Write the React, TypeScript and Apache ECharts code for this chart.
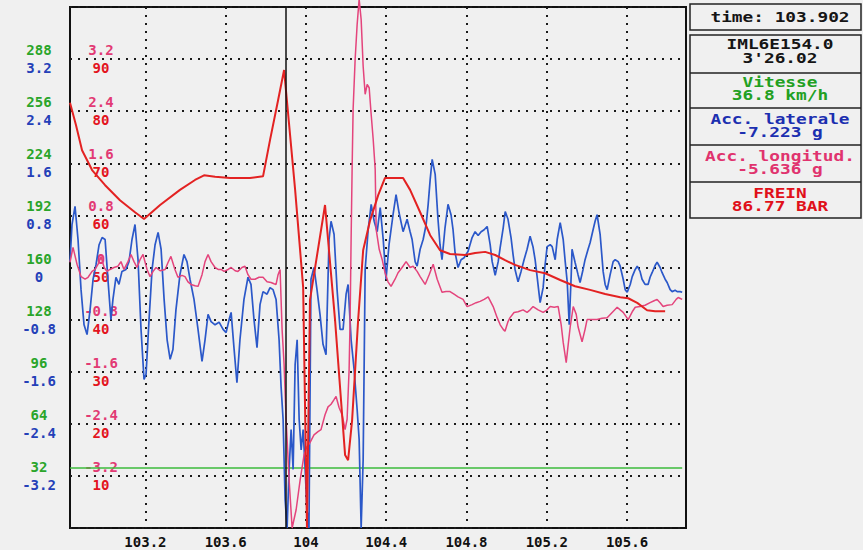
import React, { useEffect, useRef } from 'react';
import * as echarts from 'echarts';

// ---- axis ticks / labels ----
const timeTicks = [103.2, 103.6, 104, 104.4, 104.8, 105.2, 105.6];
const speedTicks = ['288', '256', '224', '192', '160', '128', '96', '64', '32'];
const latTicks = ['3.2', '2.4', '1.6', '0.8', '0', '-0.8', '-1.6', '-2.4', '-3.2'];
const longTicks = ['3.2', '2.4', '1.6', '0.8', '0', '-0.8', '-1.6', '-2.4', '-3.2'];
const brakeTicks = ['90', '80', '70', '60', '50', '40', '30', '20', '10'];

const cursorTime = 103.902;

// ---- info panel ----
const panelTime = 'time: 103.902';
const panelLap = ['IML6E154.0', "3'26.02"];
const panelSpeed = ['Vitesse', '36.8 km/h'];
const panelLat = ['Acc. laterale', '-7.223 g'];
const panelLong = ['Acc. longitud.', '-5.636 g'];
const panelBrake = ['FREIN', '86.77 BAR'];

// ---- series [time s, value] ----
const speed: [number, number][] = [[102.824, 36.8], [105.875, 36.8]];

const lateralAcc: [number, number][] = [
  [102.824,0.09],[102.834,0.66],[102.849,0.94],[102.864,0.43],[102.879,-0.34],[102.894,-0.88],[102.909,-1.03],[102.924,-0.65],[102.939,-0.18],[102.954,0.05],[102.969,0.35],[102.984,0.46],[102.999,0.43],[103.013,-0.18],[103.028,-0.80],[103.038,-0.49],[103.053,-0.15],[103.068,-0.26],[103.083,-0.06],[103.103,-0.03],[103.118,0.09],[103.133,0.43],[103.148,0.66],[103.163,0.12],[103.178,-0.95],[103.193,-1.72],[103.203,-1.64],[103.218,-0.80],[103.233,-0.03],[103.248,0.35],[103.263,0.54],[103.278,0.28],[103.293,-0.49],[103.308,-1.11],[103.323,-1.41],[103.337,-1.26],[103.352,-0.65],[103.372,-0.11],[103.392,0.20],[103.407,0.09],[103.422,-0.18],[103.442,-0.49],[103.462,-0.95],[103.482,-1.44],[103.497,-1.11],[103.512,-0.72],[103.527,-0.83],[103.547,-0.88],[103.567,-0.84],[103.587,-0.95],[103.602,-1.00],[103.617,-0.80],[103.627,-0.69],[103.642,-1.26],[103.656,-1.77],[103.671,-1.11],[103.691,-0.49],[103.711,-0.15],[103.726,-0.26],[103.741,-0.80],[103.756,-1.23],[103.771,-0.57],[103.786,-0.37],[103.806,-0.41],[103.821,-0.31],[103.836,-0.34],[103.851,-0.49],[103.866,-1.11],[103.876,-1.83],[103.886,-2.33],[103.896,-3.56],[103.906,-4.0],[103.916,-3.10],[103.926,-2.49],[103.936,-3.10],[103.946,-1.49],[103.956,-1.11],[103.966,-2.33],[103.976,-2.80],[103.986,-2.49],[103.996,-3.10],[104.005,-3.72],[104.015,-4.0],[104.025,-0.18],[104.040,0.00],[104.055,-0.34],[104.070,-0.72],[104.085,-1.18],[104.100,-1.34],[104.115,0.43],[104.125,0.71],[104.140,0.51],[104.155,-0.34],[104.170,-0.95],[104.185,-0.95],[104.200,-0.41],[104.210,-0.26],[104.225,-1.11],[104.240,-1.57],[104.255,-2.18],[104.265,-2.64],[104.275,-4.0],[104.285,-2.95],[104.295,-0.03],[104.310,0.58],[104.325,0.97],[104.340,0.71],[104.355,0.55],[104.370,0.92],[104.385,0.43],[104.399,-0.18],[104.414,0.35],[104.434,0.81],[104.449,1.12],[104.464,0.84],[104.484,0.55],[104.504,0.74],[104.519,0.55],[104.529,0.43],[104.544,0.09],[104.554,0.02],[104.569,0.28],[104.584,0.43],[104.599,0.66],[104.609,0.97],[104.619,1.35],[104.629,1.66],[104.644,1.43],[104.658,0.74],[104.668,0.35],[104.678,0.12],[104.693,0.61],[104.708,0.97],[104.723,0.81],[104.733,0.58],[104.743,0.23],[104.758,0.00],[104.773,0.12],[104.788,0.15],[104.808,0.25],[104.828,0.46],[104.843,0.55],[104.858,0.49],[104.873,0.55],[104.888,0.58],[104.903,0.63],[104.918,0.35],[104.928,0.09],[104.943,-0.12],[104.958,0.09],[104.968,0.31],[104.983,0.61],[104.993,0.86],[105.007,0.74],[105.022,0.46],[105.032,0.20],[105.042,-0.03],[105.057,-0.22],[105.072,-0.06],[105.087,0.12],[105.102,0.28],[105.117,0.48],[105.132,0.31],[105.142,0.12],[105.152,-0.14],[105.162,-0.41],[105.167,-0.54],[105.182,-0.31],[105.192,0.05],[105.202,0.32],[105.217,0.35],[105.227,0.32],[105.242,0.12],[105.252,0.43],[105.267,0.69],[105.282,0.43],[105.292,0.09],[105.302,-0.22],[105.312,-0.88],[105.322,-0.11],[105.326,0.28],[105.341,0.08],[105.356,-0.11],[105.366,-0.23],[105.381,-0.03],[105.391,0.12],[105.406,0.28],[105.416,0.38],[105.431,0.58],[105.441,0.71],[105.451,0.81],[105.466,0.51],[105.481,-0.06],[105.491,-0.26],[105.501,-0.34],[105.516,-0.11],[105.531,0.09],[105.541,0.12],[105.556,0.09],[105.566,0.02],[105.581,-0.18],[105.591,-0.34],[105.601,-0.38],[105.616,-0.26],[105.626,-0.14],[105.641,-0.03],[105.651,0.02],[105.665,-0.06],[105.675,-0.18],[105.690,-0.26],[105.705,-0.26],[105.715,-0.15],[105.725,-0.08],[105.740,0.03],[105.750,0.08],[105.765,0.00],[105.775,-0.08],[105.790,-0.18],[105.800,-0.23],[105.815,-0.34],[105.825,-0.37],[105.840,-0.35],[105.850,-0.37],[105.865,-0.37],[105.875,-0.38]
];

const longAcc: [number, number][] = [
  [102.824,0.08],[102.839,0.31],[102.859,0.05],[102.879,-0.14],[102.899,-0.18],[102.914,-0.15],[102.934,-0.06],[102.949,-0.03],[102.964,0.05],[102.979,0.17],[102.994,0.00],[103.008,-0.06],[103.023,-0.03],[103.043,0.00],[103.063,0.02],[103.078,0.09],[103.093,-0.03],[103.113,0.09],[103.128,0.20],[103.143,0.09],[103.158,0.00],[103.173,0.12],[103.188,0.20],[103.208,-0.03],[103.223,-0.14],[103.238,-0.06],[103.253,0.00],[103.273,-0.05],[103.298,-0.03],[103.313,0.08],[103.327,0.17],[103.347,-0.03],[103.362,-0.15],[103.382,-0.12],[103.397,-0.14],[103.412,-0.22],[103.427,-0.26],[103.447,-0.28],[103.462,-0.29],[103.482,-0.11],[103.497,0.09],[103.512,0.20],[103.527,0.09],[103.547,0.00],[103.562,-0.03],[103.577,-0.03],[103.592,-0.06],[103.612,-0.03],[103.627,0.00],[103.647,-0.05],[103.661,-0.06],[103.681,0.00],[103.696,0.02],[103.711,-0.11],[103.726,-0.18],[103.746,-0.18],[103.766,-0.15],[103.786,-0.15],[103.806,-0.22],[103.826,-0.23],[103.841,-0.25],[103.851,-0.26],[103.861,-0.11],[103.871,-0.03],[103.876,-0.49],[103.881,-0.95],[103.891,-1.49],[103.901,-2.33],[103.916,-3.26],[103.931,-4.0],[103.951,-3.72],[103.971,-3.26],[103.991,-2.87],[104.005,-2.75],[104.020,-2.69],[104.040,-2.57],[104.060,-2.52],[104.075,-2.49],[104.095,-2.26],[104.110,-2.14],[104.125,-2.10],[104.140,-2.03],[104.150,-1.98],[104.165,-2.15],[104.180,-2.26],[104.195,-2.49],[104.205,-2.33],[104.215,-1.57],[104.220,-0.80],[104.225,0.43],[104.230,1.51],[104.235,2.43],[104.245,3.19],[104.255,3.73],[104.265,4.12],[104.275,3.81],[104.285,3.09],[104.295,2.66],[104.305,2.81],[104.315,2.76],[104.325,2.35],[104.335,1.97],[104.345,1.51],[104.350,0.58],[104.365,0.28],[104.380,0.12],[104.394,-0.08],[104.409,-0.22],[104.424,-0.29],[104.444,-0.18],[104.459,-0.08],[104.479,0.00],[104.499,0.09],[104.519,0.00],[104.534,0.02],[104.554,-0.06],[104.569,-0.14],[104.594,-0.26],[104.614,-0.11],[104.634,0.05],[104.654,-0.18],[104.678,-0.38],[104.698,-0.37],[104.718,-0.37],[104.738,-0.41],[104.758,-0.45],[104.783,-0.49],[104.803,-0.60],[104.828,-0.57],[104.848,-0.54],[104.868,-0.52],[104.888,-0.49],[104.908,-0.45],[104.933,-0.60],[104.953,-0.77],[104.968,-0.88],[104.983,-0.95],[104.992,-0.98],[105.007,-0.83],[105.017,-0.77],[105.037,-0.69],[105.057,-0.68],[105.082,-0.65],[105.102,-0.69],[105.117,-0.65],[105.132,-0.60],[105.157,-0.65],[105.182,-0.69],[105.202,-0.65],[105.217,-0.60],[105.237,-0.61],[105.257,-0.60],[105.272,-0.88],[105.282,-1.15],[105.297,-1.46],[105.307,-1.18],[105.317,-0.91],[105.332,-0.60],[105.347,-0.72],[105.356,-0.91],[105.376,-1.14],[105.391,-0.95],[105.401,-0.80],[105.426,-0.80],[105.451,-0.80],[105.476,-0.78],[105.501,-0.77],[105.526,-0.69],[105.551,-0.61],[105.566,-0.65],[105.581,-0.69],[105.606,-0.80],[105.626,-0.68],[105.641,-0.61],[105.665,-0.60],[105.690,-0.58],[105.715,-0.54],[105.735,-0.51],[105.750,-0.49],[105.765,-0.54],[105.780,-0.60],[105.800,-0.58],[105.825,-0.57],[105.845,-0.49],[105.855,-0.46],[105.875,-0.49]
];

const brake: [number, number][] = [
  [102.824,81.6],[102.854,77.3],[102.884,72.5],[102.934,68.7],[102.999,65.8],[103.073,62.9],[103.148,60.6],[103.193,59.3],[103.273,62.0],[103.372,64.9],[103.447,66.8],[103.492,67.7],[103.547,67.4],[103.622,67.2],[103.721,67.2],[103.786,67.5],[103.821,74.5],[103.861,82.1],[103.891,87.9],[103.946,64.9],[103.986,46.2],[104.005,0],[104.020,43.8],[104.095,62.0],[104.145,39.9],[104.195,14.0],[104.210,13.0],[104.230,20.7],[104.260,39.9],[104.285,53.3],[104.320,59.1],[104.360,63.9],[104.394,67.2],[104.484,67.2],[104.519,64.9],[104.569,60.6],[104.619,56.2],[104.668,53.3],[104.718,52.6],[104.793,52.4],[104.843,52.8],[104.893,53.0],[104.943,52.4],[104.992,51.4],[105.042,50.5],[105.117,49.5],[105.192,48.9],[105.267,47.6],[105.341,46.4],[105.416,45.7],[105.491,44.9],[105.566,44.3],[105.606,44.1],[105.651,43.2],[105.700,41.8],[105.740,41.6],[105.790,41.6]
];

const MONO = '"DejaVu Sans Mono", "Liberation Mono", monospace';
const C_GREEN = '#2aa52a';
const C_BLUE = '#2440b8';
const C_PINK = '#e23a74';
const C_RED = '#e3141e';

const dotted = { color: '#1a1a1a', width: 2, type: [2, 6] as any };

function lbl(color: string) {
  return { color, fontSize: 14, fontWeight: 'bold', fontFamily: MONO, lineHeight: 18, align: 'center' };
}

function panelText(x: number, y: number, text: string, fill: string) {
  return {
    type: 'text', x, y, scaleX: 1.27, silent: true,
    style: {
      text, fill, font: `bold 14px ${MONO}`,
      align: 'center', verticalAlign: 'middle',
      textAlign: 'center', textVerticalAlign: 'middle',
    },
  };
}

export default function App() {
  const ref = useRef<HTMLDivElement>(null);
  useEffect(() => {
    if (!ref.current) return;
    const chart = echarts.init(ref.current, null, { renderer: 'svg' });
    const px = 780;
    const panelLines = [73, 108, 145, 182];
    chart.setOption({
      animation: false,
      backgroundColor: '#f0f0f0',
      grid: { left: 70, right: 177, top: 7, bottom: 22, show: true, borderColor: '#111', borderWidth: 2, backgroundColor: 'transparent' },
      xAxis: {
        type: 'value', min: 102.824, max: 105.894,
        axisLine: { show: false },
        axisTick: { show: false, customValues: timeTicks },
        axisLabel: { customValues: timeTicks, color: '#111', fontSize: 14, fontWeight: 'bold', fontFamily: MONO, margin: 7 },
        splitLine: { show: true, lineStyle: dotted },
      },
      yAxis: [
        {
          type: 'value', min: -4, max: 4, interval: 0.8, position: 'left',
          axisLine: { show: false }, axisTick: { show: false },
          splitLine: { show: true, lineStyle: dotted },
          axisLabel: {
            margin: 31, align: 'center',
            formatter: (v: number) => {
              const k = Math.round(v / 0.8);
              if (Math.abs(k) >= 5) return '';
              const i = 4 - k;
              return `{g|${speedTicks[i]}}\n{b|${latTicks[i]}}`;
            },
            rich: { g: lbl(C_GREEN), b: lbl(C_BLUE) },
          },
        },
        {
          type: 'value', min: 0, max: 100, interval: 10, position: 'left',
          axisLine: { show: false }, axisTick: { show: false }, splitLine: { show: false },
          axisLabel: {
            inside: true, margin: 31, align: 'center',
            formatter: (v: number) => {
              const k = Math.round(v / 10);
              if (k <= 0 || k >= 10) return '';
              const i = 9 - k;
              return `{p|${longTicks[i]}}\n{r|${brakeTicks[i]}}`;
            },
            rich: { p: lbl(C_PINK), r: lbl(C_RED) },
          },
        },
        { type: 'value', min: 0, max: 320, show: false },
      ],
      series: [
        {
          type: 'line', yAxisIndex: 2, data: speed, symbol: 'none', silent: true,
          lineStyle: { color: '#3dbb3d', width: 1.5 },
          markLine: {
            silent: true, symbol: ['none', 'none'], label: { show: false },
            lineStyle: { color: '#111', width: 1.5, type: 'solid' },
            data: [{ xAxis: cursorTime }],
          },
        },
        { type: 'line', yAxisIndex: 0, data: lateralAcc, symbol: 'none', silent: true, lineStyle: { color: '#2b58c9', width: 1.7 } },
        { type: 'line', yAxisIndex: 0, data: longAcc, symbol: 'none', silent: true, clip: false, lineStyle: { color: '#e4447c', width: 1.5 } },
        { type: 'line', yAxisIndex: 1, data: brake, symbol: 'none', silent: true, lineStyle: { color: '#e32222', width: 2 } },
      ],
      graphic: [
        { type: 'rect', silent: true, shape: { x: 690, y: 4, width: 171, height: 26 }, style: { fill: 'none', stroke: '#222', lineWidth: 1.5 } },
        { type: 'rect', silent: true, shape: { x: 690, y: 35, width: 171, height: 183 }, style: { fill: 'none', stroke: '#222', lineWidth: 1.5 } },
        ...panelLines.map((y) => ({ type: 'line', silent: true, shape: { x1: 690, y1: y, x2: 861, y2: y }, style: { stroke: '#222', lineWidth: 1.5 } })),
        panelText(px, 17, panelTime, '#151515'),
        panelText(px, 44, panelLap[0], '#151515'),
        panelText(px, 58, panelLap[1], '#151515'),
        panelText(px, 82, panelSpeed[0], '#22a022'),
        panelText(px, 95, panelSpeed[1], '#22a022'),
        panelText(px, 119, panelLat[0], '#1c2fb0'),
        panelText(px, 132, panelLat[1], '#1c2fb0'),
        panelText(px, 156, panelLong[0], '#e0336e'),
        panelText(px, 169, panelLong[1], '#e0336e'),
        panelText(px, 193, panelBrake[0], '#e0101a'),
        panelText(px, 206, panelBrake[1], '#e0101a'),
      ],
    });
    return () => chart.dispose();
  }, []);
  return <div ref={ref} style={{ position: 'absolute', left: 0, top: 0, width: 863, height: 550 }} />;
}
